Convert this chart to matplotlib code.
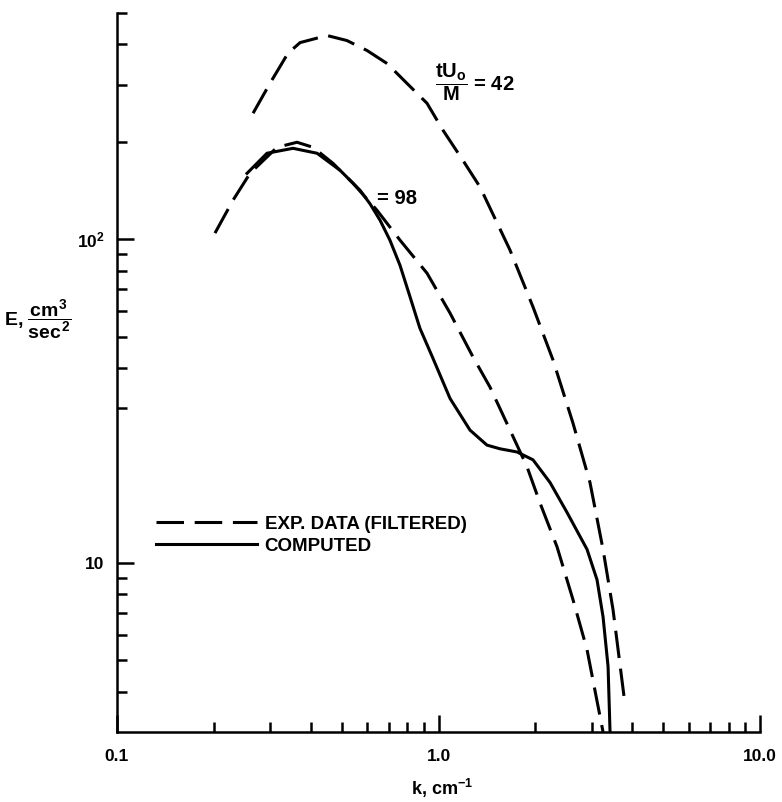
import matplotlib
matplotlib.use('Agg')
import matplotlib.pyplot as plt
from matplotlib.ticker import FixedLocator, FixedFormatter, NullFormatter

# ====================================================================
# font setup
# ====================================================================
plt.rcParams['font.family'] = ['Liberation Sans', 'DejaVu Sans']
plt.rcParams['font.weight'] = 'bold'
plt.rcParams['axes.labelweight'] = 'bold'
plt.rcParams['mathtext.fontset'] = 'custom'
plt.rcParams['mathtext.rm'] = 'Liberation Sans:bold'
plt.rcParams['mathtext.it'] = 'Liberation Sans:bold'
plt.rcParams['mathtext.bf'] = 'Liberation Sans:bold'
plt.rcParams['mathtext.sf'] = 'Liberation Sans:bold'

# ====================================================================
# data
# ====================================================================
# experiment, tU0/M = 42 (dashed, upper)
k_42 = [0.265, 0.299, 0.340, 0.371, 0.450, 0.519, 0.599, 0.692, 0.798, 0.921,
        1.033, 1.192, 1.346, 1.669, 1.968, 2.271, 2.620, 2.959, 3.249, 3.490, 3.803]
E_42 = [245, 303, 375, 405, 426, 411, 383, 349, 303, 263,
        217, 175, 145, 92.5, 61.7, 42.3, 27.0, 17.7, 11.0, 7.16, 3.65]

# experiment, tU0/M = 98 (dashed, lower)
k_98 = [0.2017, 0.2295, 0.2593, 0.3146, 0.3630, 0.4070, 0.4696, 0.5420, 0.6434, 0.7591,
        0.921, 1.086, 1.281, 1.446, 1.669, 1.885, 2.069, 2.337, 2.620, 2.897, 3.249]
E_98 = [104.4, 131.9, 159.8, 192.3, 199.3, 192.3, 171.6, 148.9, 122.9, 99.3,
        78.5, 59.1, 43.2, 34.9, 25.7, 19.8, 15.3, 11.2, 7.69, 5.39, 3.0]

# computed (solid)
k_comp = [0.2538, 0.2928, 0.3527, 0.4191, 0.4939, 0.5699, 0.6127, 0.6577, 0.7061, 0.7591,
          0.8153, 0.8750, 0.9614, 1.086, 1.253, 1.415, 1.554, 1.755, 1.968, 2.223,
          2.511, 2.897, 3.112, 3.249, 3.368, 3.416]
E_comp = [159.8, 184.3, 190.9, 184.3, 163.3, 141.7, 128.5, 114.5, 99.3, 83.0,
          66.4, 53.1, 42.8, 32.2, 25.7, 23.1, 22.5, 22.0, 20.8, 17.7,
          14.3, 11.0, 8.86, 6.81, 4.78, 3.0]

x_major = [0.1, 1.0, 10.0]
x_major_labels = ['0.1', '1.0', '10.0']
x_minor = [0.2, 0.3, 0.4, 0.5, 0.6, 0.7, 0.8, 0.9,
           2, 3, 4, 5, 6, 7, 8, 9]
y_major = [10, 100]
y_major_labels = ['10', r'$10^2$']
y_minor = [4, 5, 6, 7, 8, 9, 30, 40, 50, 60, 70, 80, 90, 200, 300, 400, 500]

# ====================================================================
# figure
# ====================================================================
fig = plt.figure(figsize=(7.82, 8.02), dpi=100)
ax = fig.add_axes([0.1496, 0.0873, 0.8223, 0.8965])

lw = 2.2
ax.plot(k_42, E_42, color='black', lw=lw, dashes=(9, 3.5),
        label='EXP. DATA (FILTERED)')
ax.plot(k_98, E_98, color='black', lw=lw, dashes=(9, 3.5), label='_nolegend_')
ax.plot(k_comp, E_comp, color='black', lw=lw, label='COMPUTED')

ax.set_xscale('log')
ax.set_yscale('log')
ax.set_xlim(0.1, 10.0)
ax.set_ylim(3, 500)

for s in ['top', 'right']:
    ax.spines[s].set_visible(False)
for s in ['left', 'bottom']:
    ax.spines[s].set_linewidth(1.8)

ax.xaxis.set_major_locator(FixedLocator(x_major))
ax.xaxis.set_major_formatter(FixedFormatter(x_major_labels))
ax.xaxis.set_minor_locator(FixedLocator(x_minor))
ax.xaxis.set_minor_formatter(NullFormatter())
ax.yaxis.set_major_locator(FixedLocator(y_major))
ax.yaxis.set_major_formatter(FixedFormatter(y_major_labels))
ax.yaxis.set_minor_locator(FixedLocator(y_minor))
ax.yaxis.set_minor_formatter(NullFormatter())

ax.tick_params(which='both', direction='in', width=1.8, top=False, right=False,
               labelsize=12.5)
ax.tick_params(which='major', length=12, pad=9)
ax.tick_params(which='minor', length=7)
ax.tick_params(axis='x', which='major', pad=12)

ax.set_xlabel(r'k, cm$^{-1}$', fontsize=13)
ax.xaxis.set_label_coords(0.505, -0.062)
ax.set_ylabel(r'E, $\dfrac{cm^3}{sec^2}$', fontsize=14, rotation=0,
              ha='center', va='center')
ax.yaxis.set_label_coords(-0.123, 0.573)

ax.text(0.4946, 0.904, r'$\dfrac{tU_o}{M}$ = 42', transform=ax.transAxes,
        fontsize=14.5, ha='left', va='center')
ax.text(0.404, 0.742, '= 98', transform=ax.transAxes,
        fontsize=14.5, ha='left', va='center')

ax.legend(loc='upper left', bbox_to_anchor=(0.0606, 0.301), frameon=False,
          fontsize=13.5, handlelength=5.4, handletextpad=0.4, labelspacing=0.25,
          borderpad=0, borderaxespad=0)

fig.savefig('out.png', dpi=100)
